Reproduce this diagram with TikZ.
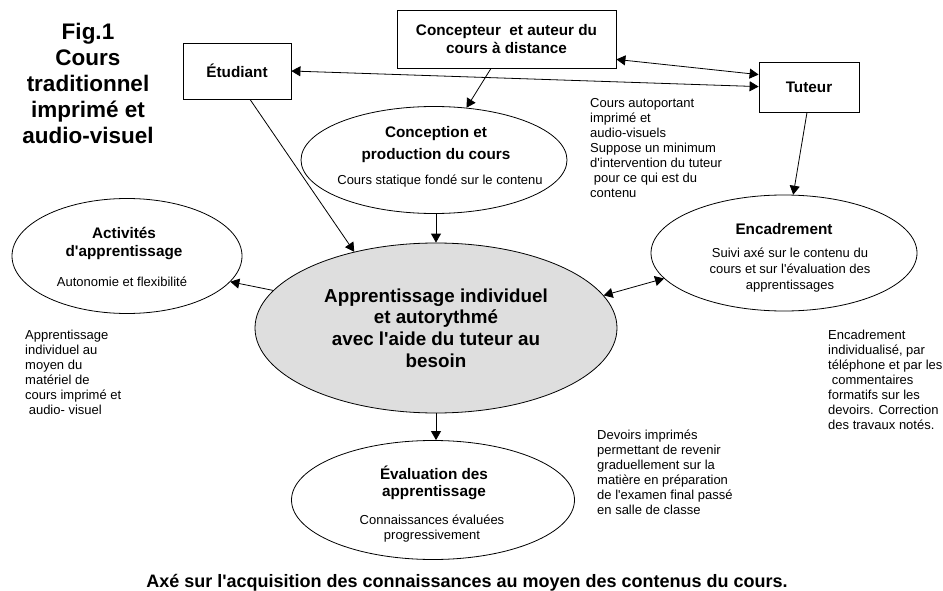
\documentclass[tikz,border=0pt]{standalone}
\usepackage{fontspec}
\setmainfont{Liberation Sans}[Ligatures=TeXOff]
\usetikzlibrary{arrows.meta,shapes.geometric}

% stacked lines whose baseline is the baseline of the first line
\newcommand\stackc[1]{\begin{tabular}[t]{@{}c@{}}#1\end{tabular}}
\newcommand\stackl[1]{\begin{tabular}[t]{@{}l@{}}#1\end{tabular}}

\begin{document}
\begin{tikzpicture}[x=1pt,y=-1pt,
  every node/.style={inner sep=0pt},
  tip/.tip={Triangle[length=9pt,width=10pt]},
  conn/.style={line width=0.8pt,-tip},
  biconn/.style={line width=0.8pt,tip-tip},
  actor/.style={draw,line width=0.8pt,rectangle,align=center,
    font={\fontsize{15.3}{17.5}\selectfont\bfseries}},
  bubble/.style={draw,line width=0.8pt,ellipse},
  heading/.style={anchor=base,font={\fontsize{15.3}{18}\selectfont\bfseries}},
  sub/.style={anchor=base,font={\fontsize{13}{15}\selectfont}},
  note/.style={anchor=base west,font={\fontsize{13}{15}\selectfont}}
]
\useasboundingbox (0,0) rectangle (943,591);

% title block
\node[anchor=base,font={\fontsize{22.5}{26}\selectfont\bfseries}] (fig) at (88,39.5)
  {\stackc{Fig.1\\Cours\\traditionnel\\imprimé et\\audio-visuel}};

% actors
\node[actor,minimum width=108pt,minimum height=56pt] (etud) at (237,71) {Étudiant};
\node[actor,minimum width=219pt,minimum height=58pt] (cpt) at (506.5,39)
  {Concepteur\ \ et auteur du\\cours à distance};
\node[actor,minimum width=100pt,minimum height=50pt] (tut) at (809,87) {Tuteur};

% activities
\node[bubble,minimum width=266pt,minimum height=107pt] (conc) at (434,160) {};
\node[bubble,minimum width=230pt,minimum height=115pt] (act) at (127,256) {};
\node[bubble,fill={rgb,255:red,222;green,222;blue,222},
  minimum width=362pt,minimum height=170pt] (core) at (436,328) {};
\node[bubble,minimum width=266pt,minimum height=116pt] (enc) at (784,253) {};
\node[bubble,minimum width=283pt,minimum height=119pt] (eval) at (433,500) {};

% texts of the activities
\node[heading,font={\fontsize{15.3}{22}\selectfont\bfseries}] (concT) at (436,138)
  {\stackc{Conception et\\production du cours}};
\node[sub] (concS) at (440,184.5) {Cours statique fondé sur le contenu};

\node[heading] (actT) at (124,238) {\stackc{Activités\\d'apprentissage}};
\node[sub] (actS) at (122,286.5) {Autonomie et flexibilité};

\node[anchor=base,font={\fontsize{18.8}{21.7}\selectfont\bfseries}] (coreT) at (436,302)
  {\stackc{Apprentissage individuel\\et autorythmé\\avec l'aide du tuteur au\\besoin}};

\node[heading] (encT) at (784,234) {Encadrement};
\node[sub,font={\fontsize{13}{16}\selectfont}] (encS) at (790,257.5)
  {\stackc{Suivi axé sur le contenu du\\cours et sur l'évaluation des\\apprentissages}};

\node[heading,font={\fontsize{15.3}{17}\selectfont\bfseries}] (evalT) at (434,479)
  {\stackc{Évaluation des\\apprentissage}};
\node[sub] (evalS) at (432,524.5)
  {\stackc{Connaissances évaluées\\progressivement}};

% side notes
\node[note] (noteA) at (590,107.5)
  {\stackl{Cours autoportant\\imprimé et\\audio-visuels\\Suppose un minimum\\d'intervention du tuteur\\\ pour ce qui est du\\contenu}};
\node[note] (noteB) at (25,339.5)
  {\stackl{Apprentissage\\individuel au\\moyen du\\matériel de\\cours imprimé et\\\ audio- visuel}};
\node[note] (noteC) at (828,339.5)
  {\stackl{Encadrement\\individualisé, par\\téléphone et par les\\\ commentaires\\formatifs sur les\\devoirs. Correction\\des travaux notés.}};
\node[note] (noteD) at (597,439.5)
  {\stackl{Devoirs imprimés\\permettant de revenir\\graduellement sur la\\matière en préparation\\de l'examen final passé\\en salle de classe}};

% caption
\node[anchor=base,font={\fontsize{18}{21}\selectfont\bfseries}] (caption) at (467,587)
  {Axé sur l'acquisition des connaissances au moyen des contenus du cours.};

% connectors
\draw[biconn] (etud.east) -- ([yshift=-25pt]tut.north west);
\draw[biconn] ([yshift=9pt]cpt.south east) -- ([yshift=-13pt]tut.north west);
\draw[conn] ([xshift=-15.5pt]cpt.south) -- (conc);
\draw[conn] ([xshift=13pt]etud.south) -- (core.137);
\draw[conn] (conc.south -| core.north) -- (core.north);
\draw[conn] (core.167) -- (act.-14);
\draw[conn] ([xshift=-2pt]tut.south) -- (enc.81);
\draw[biconn] (core.11.5) -- (enc.192.5);
\draw[conn] (core.south) -- (core.south |- eval.north);
\end{tikzpicture}
\end{document}
